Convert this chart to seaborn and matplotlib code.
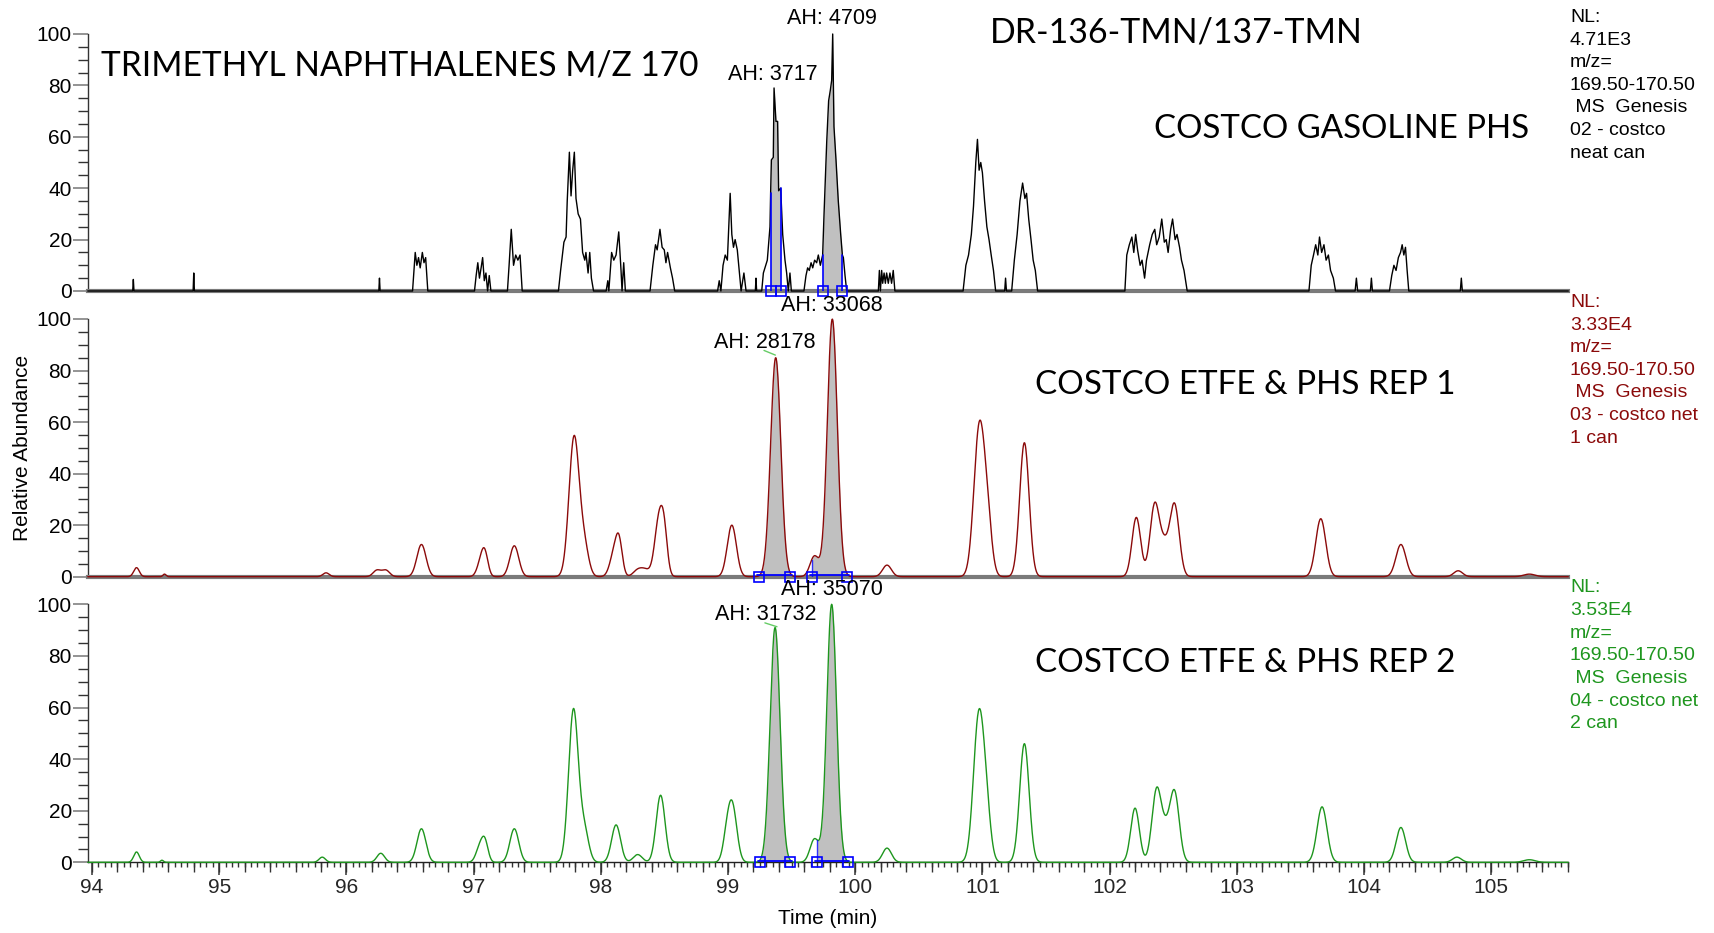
import numpy as np
import pandas as pd
import matplotlib
matplotlib.use("Agg")
import matplotlib.pyplot as plt
import seaborn as sns
from matplotlib.ticker import MultipleLocator, NullFormatter

# ---------------- data ----------------
time_range = (93.967, 105.606)

# Panel 1: COSTCO GASOLINE PHS (neat can) - trace vertices
gas_time = [
    93.967,
    94.320, 94.325, 94.330,
    94.795, 94.800, 94.805,
    96.255, 96.260, 96.265,
    96.520, 96.533, 96.541, 96.554, 96.567, 96.580, 96.597, 96.610, 96.623, 96.640,
    97.007, 97.020, 97.033, 97.046, 97.059, 97.071, 97.084, 97.097, 97.110, 97.123, 97.136,
    97.266, 97.279, 97.296, 97.314, 97.331, 97.348, 97.365, 97.382,
    97.667, 97.684, 97.710, 97.727, 97.736, 97.753, 97.766, 97.779, 97.792, 97.805,
    97.822, 97.840, 97.857, 97.874, 97.883, 97.900, 97.913, 97.926, 97.943,
    98.042, 98.055, 98.063, 98.085, 98.102, 98.120, 98.141, 98.159, 98.167, 98.180, 98.193,
    98.387, 98.409, 98.430, 98.443, 98.465, 98.482, 98.499, 98.512, 98.525, 98.547, 98.564, 98.581,
    98.918, 98.931, 98.944, 98.961, 98.978, 98.995, 99.017, 99.030, 99.043, 99.056,
    99.073, 99.090, 99.103, 99.125, 99.142,
    99.215, 99.220, 99.225,
    99.265, 99.278, 99.309, 99.330, 99.335, 99.341, 99.356, 99.362, 99.377, 99.390,
    99.398, 99.414, 99.430, 99.448, 99.461, 99.474, 99.487, 99.498,
    99.597, 99.613, 99.626, 99.639, 99.653, 99.666, 99.681, 99.697, 99.710, 99.726,
    99.744, 99.755, 99.776, 99.791, 99.804, 99.815, 99.823, 99.833, 99.849, 99.867,
    99.886, 99.899, 99.907, 99.920, 99.933,
    100.182, 100.190, 100.198, 100.208, 100.216, 100.227, 100.237, 100.247, 100.260,
    100.273, 100.286, 100.299, 100.312,
    100.848, 100.870, 100.891, 100.913, 100.930, 100.948, 100.961, 100.974, 100.987,
    101.000, 101.017, 101.035, 101.052, 101.069, 101.087, 101.104,
    101.175, 101.182, 101.189,
    101.230, 101.251, 101.273, 101.295, 101.316, 101.334, 101.347, 101.364, 101.382,
    101.399, 101.416, 101.434,
    102.120, 102.135, 102.155, 102.175, 102.190, 102.205, 102.220, 102.240, 102.255,
    102.275, 102.290, 102.315, 102.335, 102.355, 102.370, 102.390, 102.410, 102.430,
    102.445, 102.460, 102.480, 102.495, 102.515, 102.530, 102.550, 102.565, 102.585, 102.610,
    103.567, 103.585, 103.603, 103.620, 103.637, 103.650, 103.667, 103.685, 103.702,
    103.720, 103.737, 103.759, 103.776,
    103.930, 103.940, 103.950,
    104.050, 104.058, 104.066,
    104.200, 104.218, 104.235, 104.252, 104.270, 104.287, 104.300, 104.313, 104.326,
    104.339, 104.352,
    104.757, 104.765, 104.773,
    105.606,
]
gas_abund = [
    0,
    0, 4.5, 0,
    0, 7, 0,
    0, 5, 0,
    0, 9, 15, 10, 13, 9, 15, 11, 13, 0,
    0, 6, 11, 5, 9, 13, 4, 7, 0, 6, 0,
    0, 10, 24, 10, 14, 12, 14, 0,
    0, 8, 19, 21, 35, 54, 37, 47, 54, 36,
    30, 28, 15, 12, 15, 7, 15, 5, 0,
    0, 4, 0, 15, 12, 14, 23, 8, 0, 11, 0,
    0, 10, 18, 16, 24, 17, 16, 11, 15, 9, 5, 0,
    0, 4, 0, 10, 14, 12, 38, 22, 17, 20,
    16, 7, 0, 7, 0,
    0, 5, 0,
    0, 7, 12, 25, 38, 51, 52, 79, 66, 66,
    39, 40, 22, 12, 7, 0, 7, 0,
    0, 6, 9, 8, 11, 9, 12, 11, 14, 10,
    14, 30, 58, 74, 78, 82, 100, 64, 51, 35,
    22, 14, 13, 6, 0,
    0, 8, 0, 8, 3, 7, 3, 7, 3,
    7, 3, 8, 0,
    0, 10, 14, 22, 33, 50, 59, 47, 50,
    46, 35, 25, 20, 14, 8, 0,
    0, 5, 0,
    0, 12, 22, 35, 42, 36, 38, 28, 20,
    12, 8, 0,
    0, 14, 18, 21, 15, 22, 16, 10, 12,
    5, 12, 18, 22, 24, 18, 21, 28, 19,
    20, 15, 24, 28, 20, 22, 17, 12, 8, 0,
    0, 10, 14, 18, 14, 21, 15, 18, 12,
    14, 8, 5, 0,
    0, 5, 0,
    0, 5, 0,
    0, 6, 10, 8, 13, 15, 18, 14, 17,
    8, 0,
    0, 5, 0,
    0,
]

# Panel 2: COSTCO ETFE & PHS REP 1 - peak table (retention time, height %, width)
rep1_rt = [94.35, 94.57, 95.84, 96.24, 96.31, 96.59, 97.06, 97.09, 97.32, 97.79, 97.87,
           98.11, 98.145, 98.29, 98.35, 98.46, 98.50, 99.03, 99.375, 99.68, 99.82, 100.25,
           100.975, 101.04, 101.33, 102.21, 102.355, 102.43, 102.51, 103.66, 104.29, 104.74, 105.3]
rep1_height = [3.5, 1, 1.5, 2.5, 2.5, 12.5, 6, 7, 12, 54, 11,
               10, 10, 2.5, 2.5, 23, 11, 20, 85, 8, 100, 4.5,
               57, 18, 52, 23, 28, 10, 28, 22.5, 12.5, 2.3, 1]
rep1_width = [0.022, 0.012, 0.025, 0.03, 0.03, 0.036, 0.03, 0.025, 0.035, 0.04, 0.035,
              0.035, 0.025, 0.035, 0.035, 0.035, 0.025, 0.036, 0.04, 0.035, 0.039, 0.035,
              0.042, 0.035, 0.037, 0.034, 0.037, 0.034, 0.037, 0.039, 0.039, 0.035, 0.045]

# Panel 3: COSTCO ETFE & PHS REP 2 - peak table
rep2_rt = [94.35, 94.55, 95.81, 96.27, 96.59, 97.05, 97.09, 97.32, 97.785, 97.87,
           98.12, 98.29, 98.47, 98.99, 99.035, 99.37, 99.68, 99.815, 100.25,
           100.97, 101.03, 101.33, 102.2, 102.37, 102.44, 102.51, 103.67, 104.29, 104.73, 105.3]
rep2_height = [4, 0.8, 2, 3.5, 13, 6, 7, 13, 59, 12,
               14.5, 3, 26, 8, 21, 91, 9, 100, 5.5,
               55, 17, 46, 21, 28, 9, 27, 21.5, 13.5, 2, 1]
rep2_width = [0.022, 0.012, 0.025, 0.03, 0.035, 0.03, 0.025, 0.035, 0.038, 0.035,
              0.035, 0.035, 0.035, 0.03, 0.035, 0.039, 0.035, 0.038, 0.035,
              0.041, 0.035, 0.037, 0.034, 0.037, 0.034, 0.037, 0.039, 0.037, 0.035, 0.045]

# integration windows (start, end) and area-height labels
gas_windows = [(99.335, 99.414), (99.744, 99.899)]
rep1_windows = [(99.24, 99.49), (99.66, 99.935)]
rep2_windows = [(99.25, 99.487), (99.70, 99.94)]
gas_ah = ["AH: 3717", "AH: 4709"]
rep1_ah = ["AH: 28178", "AH: 33068"]
rep2_ah = ["AH: 31732", "AH: 35070"]

panel_titles = ["COSTCO GASOLINE PHS", "COSTCO ETFE & PHS REP 1", "COSTCO ETFE & PHS REP 2"]
info_gas = ["NL:", "4.71E3", "m/z=", "169.50-170.50", " MS  Genesis", "02 - costco", "neat can"]
info_rep1 = ["NL:", "3.33E4", "m/z=", "169.50-170.50", " MS  Genesis", "03 - costco net", "1 can"]
info_rep2 = ["NL:", "3.53E4", "m/z=", "169.50-170.50", " MS  Genesis", "04 - costco net", "2 can"]

# ---------------- build traces ----------------
grid = np.linspace(time_range[0], time_range[1], 3500)


def peak_trace(rt, h, w):
    rt, h, w = (np.asarray(v, float)[:, None] for v in (rt, h, w))
    return (h * np.exp(-0.5 * ((grid[None, :] - rt) / w) ** 2)).sum(axis=0)


df_gas = pd.DataFrame({"time": gas_time, "abund": gas_abund})
df_rep1 = pd.DataFrame({"time": grid, "abund": peak_trace(rep1_rt, rep1_height, rep1_width)})
df_rep2 = pd.DataFrame({"time": grid, "abund": peak_trace(rep2_rt, rep2_height, rep2_width)})

# ---------------- figure ----------------
sns.set_theme(style="ticks")
plt.rcParams['font.family'] = ['Liberation Sans', 'DejaVu Sans']
plt.rcParams['axes.linewidth'] = 1.0

W, H = 1715, 933
fig = plt.figure(figsize=(W / 100, H / 100), dpi=100)
fig.patch.set_facecolor("white")


def fx(px):
    return px / W


def fy(py):
    return 1 - py / H


left_px, right_px = 87.8, 1568.3
panels_px = [(34, 291), (319, 576.7), (604.3, 862.3)]
axes = []
for top, bot in panels_px:
    ax = fig.add_axes([fx(left_px), fy(bot), fx(right_px - left_px), (bot - top) / H])
    axes.append(ax)

BLACK = "#000000"
RED = "#8B0A0A"
GREEN = "#1E961E"
GRAY_FILL = "#C0C0C0"
BLUE = "#0000FF"

trace_colors = [BLACK, RED, GREEN]
dfs = [df_gas, df_rep1, df_rep2]
windows = [gas_windows, rep1_windows, rep2_windows]

for i, (ax, df, col, win) in enumerate(zip(axes, dfs, trace_colors, windows)):
    # gray integrated area
    for (a, b) in win:
        m = (df["time"] >= a) & (df["time"] <= b)
        ax.fill_between(df["time"][m], 0, df["abund"][m], color=GRAY_FILL, lw=0, zorder=1)
    sns.lineplot(data=df, x="time", y="abund", ax=ax, color=col, lw=1.0,
                 estimator=None, sort=False, zorder=3, clip_on=False)
    # integration markers
    for k, (a, b) in enumerate(win):
        if i == 0:
            for t in (a, b):
                j = int(np.argmin(np.abs(df["time"].values - t)))
                ax.plot([t, t], [0, df["abund"].values[j]], color=BLUE, lw=1.2, zorder=4)
        else:
            ax.plot([a - 0.015, b + 0.015], [0.6, 0.6], color=BLUE, lw=1.3, zorder=4, clip_on=False)
            if k == 1:
                j = int(np.argmin(np.abs(df["time"].values - a)))
                ax.plot([a, a], [0, df["abund"].values[j]], color=BLUE, lw=1.0, zorder=4, alpha=0.8)
        ax.plot([a, b], [0, 0], ls="none", marker="s", ms=7, mfc="none", mec=BLUE,
                mew=1.2, zorder=5, clip_on=False)

    ax.set_xlim(*time_range)
    ax.set_ylim(0, 100)
    ax.set_xlabel("")
    ax.set_ylabel("")
    ax.yaxis.set_major_locator(MultipleLocator(20))
    ax.yaxis.set_minor_locator(MultipleLocator(5))
    ax.tick_params(axis="y", which="major", length=11, width=1.1, color="#777777",
                   labelsize=15, pad=0.5, labelcolor="black")
    ax.tick_params(axis="y", which="minor", length=7, width=1.0, color="#333333")
    for s in ("top", "right"):
        ax.spines[s].set_visible(False)
    ax.spines["left"].set_color("#333333")
    ax.set_facecolor("white")
    if i < 2:
        ax.tick_params(axis="x", which="both", bottom=False, labelbottom=False)
        ax.spines["bottom"].set_color("#7a7a7a")
        ax.spines["bottom"].set_linewidth(3.0)
    else:
        ax.xaxis.set_major_locator(MultipleLocator(1))
        ax.xaxis.set_minor_locator(MultipleLocator(0.05))
        ax.tick_params(axis="x", which="major", length=9, width=1.1, color="#333333",
                       labelsize=15, pad=2)
        ax.tick_params(axis="x", which="minor", length=3.5, width=1.0, color="#333333")
        ax.spines["bottom"].set_color("#222222")
        sec = ax.secondary_xaxis("bottom")
        sec.xaxis.set_major_locator(MultipleLocator(0.2))
        sec.xaxis.set_major_formatter(NullFormatter())
        sec.tick_params(axis="x", length=7, width=1.0, color="#333333")
        sec.spines["bottom"].set_visible(False)

# AH labels
ah_pos = [
    [(99.356, 84.4), (99.815, 106.1)],
    [(99.291, 90.8), (99.82, 105.4)],
    [(99.30, 96.0), (99.82, 105.7)],
]
ah_text = [gas_ah, rep1_ah, rep2_ah]
for ax, pos, txts in zip(axes, ah_pos, ah_text):
    for (t, y), s in zip(pos, txts):
        ax.text(t, y, s, ha="center", va="center", fontsize=15.5, color="black",
                clip_on=False, zorder=6)
# little leader lines
axes[1].plot([99.283, 99.372], [87.8, 86.0], color="#66CC66", lw=1.0, clip_on=False, zorder=6)
axes[2].plot([99.29, 99.385], [92.8, 91.3], color="#66CC66", lw=1.0, clip_on=False, zorder=6)

# big titles (Calibri-like)
big_font = ["Lato", "Open Sans", "DejaVu Sans"]
big_texts = [
    ("TRIMETHYL NAPHTHALENES M/Z 170", 100.6, 695.7, 65.6),
    ("DR-136-TMN/137-TMN", 990.0, 1362.0, 32.8),
    (panel_titles[0], 1154.0, 1528.0, 129.0),
    (panel_titles[1], 1035.0, 1456.0, 385.0),
    (panel_titles[2], 1035.0, 1456.0, 663.0),
]
fig.canvas.draw()
renderer = fig.canvas.get_renderer()
for s, x0, x1, yc in big_texts:
    t = fig.text(fx(x0), fy(yc), s, ha="left", va="center", fontsize=30,
                 family=big_font, color="black")
    wpx = t.get_window_extent(renderer=renderer).width
    t.set_fontsize(30 * (x1 - x0) / wpx)

# right-hand info blocks
info_blocks = [(info_gas, BLACK, 17.5), (info_rep1, RED, 302.5), (info_rep2, GREEN, 588.0)]
for lines, col, y0 in info_blocks:
    for k, s in enumerate(lines):
        fig.text(fx(1570), fy(y0 + k * 22.6), s, ha="left", va="center",
                 fontsize=14, color=col)

# axis labels
fig.text(fx(23), fy(448), "Relative Abundance", rotation=90, ha="center", va="center",
         fontsize=15, color="black")
fig.text(fx(828), fy(918), "Time (min)", ha="center", va="center", fontsize=15, color="black")

fig.savefig("out.png", dpi=100, facecolor="white")
